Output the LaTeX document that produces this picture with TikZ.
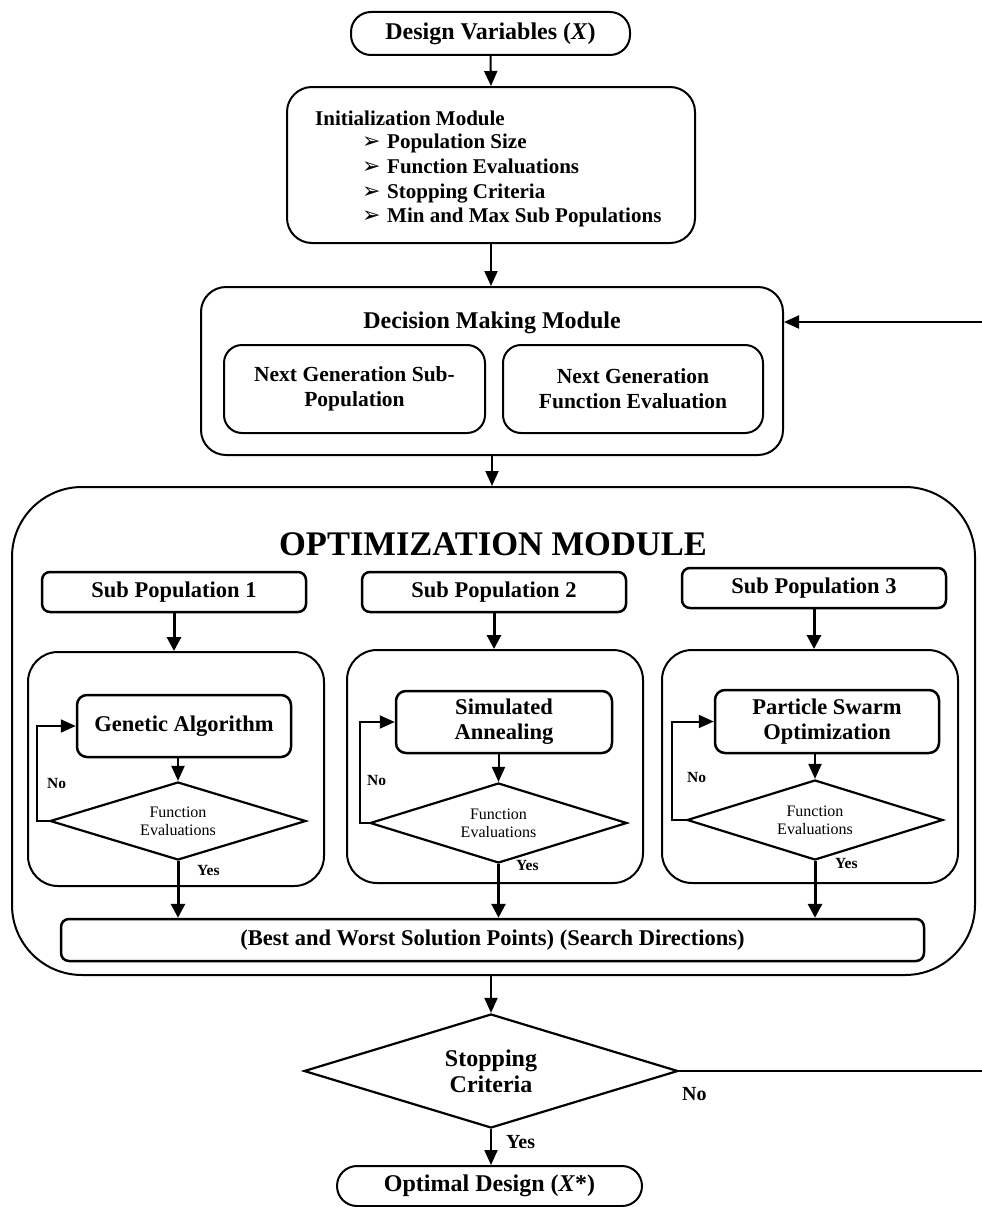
\documentclass[tikz,border=0pt]{standalone}
\usepackage{fontspec}
\setmainfont{Liberation Serif}
\newfontfamily\dejavu{DejaVu Sans}
\usetikzlibrary{arrows.meta,shapes.geometric,calc}
\newcommand{\itembul}[1]{\makebox[25pt][l]{\dejavu\fontsize{22}{22}\selectfont ➢}#1}
\begin{document}
\begin{tikzpicture}[x=1pt,y=-1pt,
  every node/.style={inner sep=0pt},
  arr/.style={line width=2pt,-{Triangle[length=15pt,width=13pt]}},
  tarr/.style={line width=3pt,-{Triangle[length=14pt,width=14pt]}},
  plainline/.style={line width=2pt},
  pill/.style={draw,line width=2pt,rounded corners=20pt,align=center},
  rbox/.style={draw,line width=2pt,align=center},
  hbox/.style={draw,line width=2.5pt,align=center,rounded corners=8pt},
  dia/.style={draw,diamond,line width=2.2pt,align=center,inner sep=0pt},
  tbig/.style={font=\fontsize{24}{26}\selectfont\bfseries},
  tmid/.style={font=\fontsize{22.5}{25}\selectfont\bfseries},
  tinit/.style={font=\fontsize{21}{24}\selectfont\bfseries},
  tng/.style={font=\fontsize{21.5}{25}\selectfont\bfseries},
  tsmall/.style={font=\fontsize{16}{18}\selectfont},
  lsmall/.style={font=\fontsize{15.5}{17}\selectfont\bfseries},
  lbig/.style={font=\fontsize{20}{22}\selectfont\bfseries}
]
\useasboundingbox (0,0) rectangle (982,1207);

% top
\node[pill,tbig,minimum width=279pt,minimum height=43pt] (dv) at (490.5,33.5) {Design Variables (\textit{X})};
\node[rbox,rounded corners=25pt,minimum width=408pt,minimum height=156pt] (init) at (491,165) {};
\node[tinit,anchor=base west] (initt) at (315,125) {Initialization Module};
\node[tinit,anchor=base west] (i1) at (362,148) {\itembul{Population Size}};
\node[tinit,anchor=base west] (i2) at (362,173) {\itembul{Function Evaluations}};
\node[tinit,anchor=base west] (i3) at (362,198) {\itembul{Stopping Criteria}};
\node[tinit,anchor=base west] (i4) at (362,222) {\itembul{Min and Max Sub Populations}};

% decision
\node[rbox,rounded corners=25pt,minimum width=582pt,minimum height=168pt] (dec) at (492,371) {};
\node[tbig,anchor=base] (dect) at (492,328) {Decision Making Module};
\node[rbox,tng,rounded corners=18pt,minimum width=261pt,minimum height=88pt] (ngs) at (354.5,389) {Next Generation Sub-\\Population};
\node[rbox,tng,rounded corners=18pt,minimum width=260pt,minimum height=88pt] (ngf) at (633,389) {Next Generation\\Function Evaluation};

% optimization module
\node[rbox,rounded corners=70pt,minimum width=963pt,minimum height=488pt] (opt) at (493.5,731) {};
\node[font=\fontsize{34.5}{36}\selectfont\bfseries,anchor=base] (optt) at (493,555) {OPTIMIZATION MODULE};

\node[hbox,tmid,minimum width=264pt,minimum height=40pt] (sp1) at (174,592) {Sub Population 1};
\node[hbox,tmid,minimum width=264pt,minimum height=40pt] (sp2) at (494,592) {Sub Population 2};
\node[hbox,tmid,minimum width=264pt,minimum height=40pt] (sp3) at (814,588) {Sub Population 3};

\node[rbox,rounded corners=30pt,minimum width=296pt,minimum height=234pt] (in1) at (176,769) {};
\node[rbox,rounded corners=30pt,minimum width=296pt,minimum height=233pt] (in2) at (495,766.5) {};
\node[rbox,rounded corners=30pt,minimum width=296pt,minimum height=233pt] (in3) at (810,766.5) {};

\node[hbox,tmid,rounded corners=10pt,minimum width=214pt,minimum height=62pt] (ga) at (184,726) {Genetic Algorithm};
\node[hbox,tmid,rounded corners=10pt,minimum width=216pt,minimum height=62pt] (sa) at (504,722) {Simulated\\Annealing};
\node[hbox,tmid,rounded corners=10pt,minimum width=224pt,minimum height=63pt] (pso) at (827,721.5) {Particle Swarm\\Optimization};

\node[dia,tsmall,aspect=3.3,minimum width=256pt,minimum height=78pt] (d1) at (178,821) {Function\\Evaluations};
\node[dia,tsmall,aspect=3.2,minimum width=257pt,minimum height=80pt] (d2) at (498.5,823) {Function\\Evaluations};
\node[dia,tsmall,aspect=3.2,minimum width=256pt,minimum height=80pt] (d3) at (815,820) {Function\\Evaluations};

\node[lsmall,anchor=base west] (no1) at (47,788) {No};
\node[lsmall,anchor=base west] (no2) at (367,785) {No};
\node[lsmall,anchor=base west] (no3) at (687,782) {No};
\node[lsmall,anchor=base west] (yes1) at (197,875) {Yes};
\node[lsmall,anchor=base west] (yes2) at (516,870) {Yes};
\node[lsmall,anchor=base west] (yes3) at (835,868) {Yes};

\node[hbox,tmid,minimum width=863pt,minimum height=42pt] (best) at (492.5,940) {(Best and Worst Solution Points) (Search Directions)};

% bottom
\node[dia,tbig,aspect=3.28,minimum width=374pt,minimum height=114pt] (sc) at (491,1071) {Stopping\\Criteria};
\node[pill,tbig,minimum width=305pt,minimum height=40pt] (od) at (489.5,1186) {Optimal Design (\textit{X}*)};
\node[lbig,anchor=base west] (no4) at (682,1100) {No};
\node[lbig,anchor=base west] (yes4) at (506,1148) {Yes};

\coordinate (fbin) at (982,322);
\coordinate (fbout) at (982,1071);

% connectors
\draw[arr] (dv.south) -- (init.north);
\draw[arr] (init.south) -- (init.south |- dec.north);
\draw[arr] (dec.south) -- (dec.south |- opt.north);
\draw[arr] (fbin) -- (fbin -| dec.east);

\draw[tarr] (sp1.south) -- (sp1.south |- in1.north);
\draw[tarr] (sp2.south) -- (sp2.south |- in2.north);
\draw[tarr] (sp3.south) -- (sp3.south |- in3.north);

\draw[arr] (ga.south -| d1.north) -- (d1.north);
\draw[arr] (sa.south -| d2.north) -- (d2.north);
\draw[arr] (pso.south -| d3.north) -- (d3.north);

\draw[arr] (d1.west) -- ++(-12,0) |- (ga.west);
\draw[arr] (d2.west) -- ++(-9,0) |- (sa.west);
\draw[arr] (d3.west) -- ++(-14,0) |- (pso.west);

\draw[tarr] (d1.south) -- (d1.south |- best.north);
\draw[tarr] (d2.south) -- (d2.south |- best.north);
\draw[tarr] (d3.south) -- (d3.south |- best.north);

\draw[arr] (opt.south -| sc.north) -- (sc.north);
\draw[arr] (sc.south) -- (sc.south |- od.north);
\draw[plainline] (sc.east) -- (fbout);
\end{tikzpicture}
\end{document}
